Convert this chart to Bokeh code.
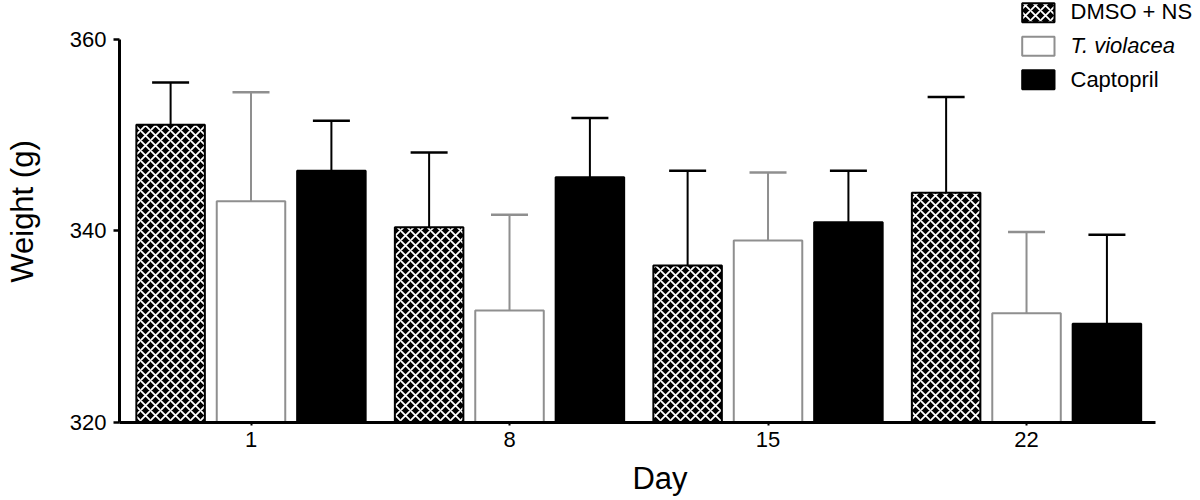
from bokeh.plotting import figure
from bokeh.models import (ColumnDataSource, Whisker, TeeHead, FixedTicker, Range1d,
                          Label, BoxAnnotation)
from bokeh.embed import file_html
from bokeh.resources import INLINE

# ---- data ----
days = ["1", "8", "15", "22"]
series = ["DMSO + NS", "T. violacea", "Captopril"]
dmso_mean = [351.1, 340.4, 336.4, 344.0]
dmso_err = [4.4, 7.8, 9.9, 10.0]
tv_mean = [343.1, 331.7, 339.0, 331.4]
tv_err = [11.4, 10.0, 7.1, 8.5]
cap_mean = [346.3, 345.6, 340.9, 330.3]
cap_err = [5.2, 6.2, 5.4, 9.3]

FONT = "Liberation Sans"
GRAY = "#8f8f8f"

p = figure(width=1200, height=500, output_backend="svg", toolbar_location=None,
           x_range=Range1d(-0.5087, 3.673), y_range=Range1d(320, 364.07),
           min_border_left=119, min_border_right=0, min_border_top=0,
           min_border_bottom=78)
p.outline_line_color = None
p.xgrid.visible = False
p.ygrid.visible = False
p.background_fill_color = "white"
p.border_fill_color = "white"

offsets = [-0.311, 0.0, 0.311]
HATCH = dict(hatch_pattern="x", hatch_color="white", hatch_scale=10, hatch_weight=1.8)
styles = [
    dict(fill_color="black", line_color="black", **HATCH),
    dict(fill_color="white", line_color=GRAY),
    dict(fill_color="black", line_color="black"),
]
whisker_colors = ["black", GRAY, "black"]

for means, errs, off, st, wc in zip([dmso_mean, tv_mean, cap_mean],
                                    [dmso_err, tv_err, cap_err],
                                    offsets, styles, whisker_colors):
    src = ColumnDataSource(dict(
        x=[i + off for i in range(len(days))],
        top=means,
        upper=[m + e for m, e in zip(means, errs)],
    ))
    p.vbar(x="x", top="top", bottom=320, width=0.265, line_width=2,
           source=src, **st)
    w = Whisker(base="x", lower="top", upper="upper", source=src,
                dimension="height", line_color=wc, line_width=2,
                lower_head=None,
                upper_head=TeeHead(size=37, line_color=wc, line_width=2.5))
    w.level = "overlay"
    p.add_layout(w)

# ---- axes ----
yax = p.yaxis[0]
yax.ticker = FixedTicker(ticks=[320, 340, 360])
yax.bounds = (320, 360)
yax.axis_line_width = 3
yax.major_tick_line_width = 2.5
yax.major_tick_out = 6
yax.major_tick_in = 0
yax.minor_tick_line_color = None
yax.major_label_standoff = 7
yax.major_label_text_font = FONT
yax.major_label_text_font_size = "22px"
yax.major_label_text_color = "black"
yax.axis_label = "Weight (g)"
yax.axis_label_text_font = FONT
yax.axis_label_text_font_size = "31px"
yax.axis_label_text_font_style = "normal"
yax.axis_label_text_color = "black"
yax.axis_label_standoff = 27

xax = p.xaxis[0]
xax.ticker = FixedTicker(ticks=list(range(len(days))))
xax.major_label_overrides = {i: d for i, d in enumerate(days)}
xax.bounds = (-0.5087, 3.499)
xax.axis_line_width = 3
xax.major_tick_line_width = 2
xax.major_tick_out = 3
xax.major_tick_in = 0
xax.minor_tick_line_color = None
xax.major_label_standoff = 6
xax.major_label_text_font = FONT
xax.major_label_text_font_size = "22px"
xax.major_label_text_color = "black"
xax.axis_label = "Day"
xax.axis_label_text_font = FONT
xax.axis_label_text_font_size = "31px"
xax.axis_label_text_font_style = "normal"
xax.axis_label_text_color = "black"
xax.axis_label_standoff = 11

# ---- legend (screen units, relative to frame bottom-left) ----
sw_left, sw_right = 902.7, 935.0
rows = [(419.3, 400.3), (385.7, 366.7), (352.3, 333.3)]
text_y = [411.0, 377.0, 343.5]
for (top, bottom), ty, st, name in zip(rows, text_y, styles, series):
    kw = dict(fill_color=st["fill_color"], fill_alpha=1.0,
              line_color=st["line_color"], line_alpha=1.0, line_width=2)
    if "hatch_pattern" in st:
        kw.update(HATCH)
        kw["hatch_alpha"] = 1.0
    box = BoxAnnotation(left=sw_left, right=sw_right, top=top, bottom=bottom,
                        left_units="screen", right_units="screen",
                        top_units="screen", bottom_units="screen", **kw)
    p.add_layout(box)
    lab = Label(x=951.0, y=ty, x_units="screen", y_units="screen",
                text=name, text_font=FONT, text_font_size="22px",
                text_baseline="middle", text_color="black",
                text_font_style="italic" if name == "T. violacea" else "normal")
    p.add_layout(lab)

open("out.html", "w").write(file_html(p, INLINE))
